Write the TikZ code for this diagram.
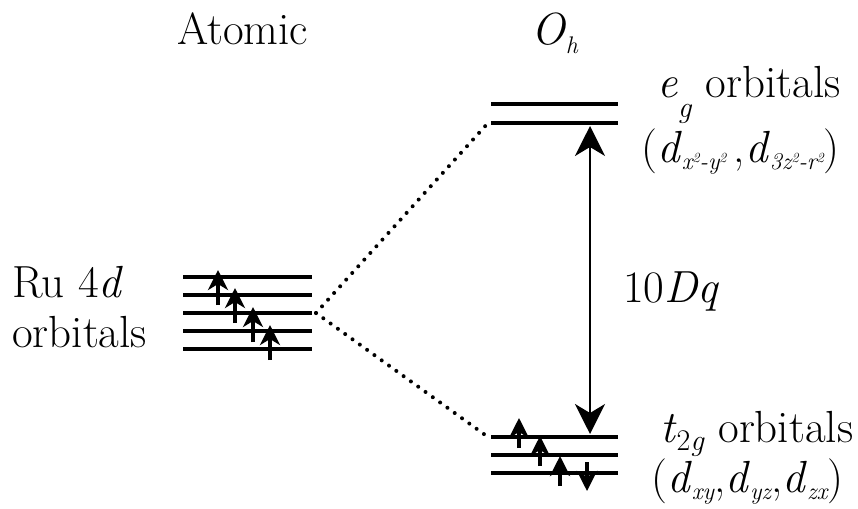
\documentclass[tikz,border=0pt]{standalone}
\usepackage{fontspec}
\usetikzlibrary{arrows.meta}

\tikzset{
    level/.style={line width=4pt},
    spin/.style={line width=4.5pt, -{Stealth[length=20pt, width=20pt, inset=6pt]}},
    split/.style={line width=4pt, line cap=round, dash pattern=on 0pt off 9pt},
    gap/.style={line width=2pt, {Stealth[length=30pt, width=30pt, inset=9pt]}-{Stealth[length=30pt, width=30pt, inset=9pt]}},
    lbl/.style={anchor=base west, inner sep=0pt, font=\fontsize{45}{50}\selectfont}
}
\newcommand{\sub}[1]{\raisebox{-7pt}{\fontsize{24}{26}\selectfont\itshape #1}}
\newcommand{\sq}{\raisebox{7pt}{\fontsize{14}{16}\selectfont 2}}

\begin{document}
\begin{tikzpicture}[x=1pt, y=-1pt]
    \useasboundingbox (0,0) rectangle (858,508);
    % titles
    \node[lbl] (atomic) at (177,45) {Atomic};
    \node[lbl] (oh) at (531,45) {\textit{O}\raisebox{-9pt}{\fontsize{24}{26}\selectfont\textit{h}}};
    % atomic 4d levels
    \foreach \y [count=\i] in {277,295,313,331,349} {
        \draw[level] (183,\y) coordinate (a\i) -- (312,\y) coordinate (ar\i);
    }
    \foreach \x/\y in {218/305, 235/323, 253/342, 270/360} {
        \draw[spin] (\x,\y) -- ++(0,-35);
    }
    \node[lbl] (ru) at (12,297) {Ru 4\textit{d}};
    \node[lbl] (ruorb) at (12,347) {orbitals};
    % eg levels
    \draw[level] (491,104) coordinate (e1) -- (618,104);
    \draw[level] (491,123) coordinate (e2) -- (618,123) coordinate (e2r);
    % t2g levels
    \draw[level] (491,437) coordinate (t1) -- (618,437) coordinate (t1r);
    \draw[level] (491,455) coordinate (t2) -- (618,455);
    \draw[level] (491,473) coordinate (t3) -- (618,473);
    \foreach \x/\y in {519/448, 540/466, 560/486} {
        \draw[spin] (\x,\y) -- ++(0,-30);
    }
    \draw[spin] (587,462) -- ++(0,29);
    % splitting
    \draw[split] (ar3) ++(4,0) -- ([xshift=-3pt]e2);
    \draw[split] (ar3) ++(4,0) -- ([xshift=-3pt]t1);
    \draw[gap] (590,126) coordinate (gtop) -- (590,434) coordinate (gbot);
    \node[lbl] (dq) at (623,302) {10\textit{Dq}};
    % labels
    \node[lbl] (eg) at (657,98) {\textit{e}\raisebox{-20pt}{\fontsize{30}{32}\selectfont\textit{g}} orbitals};
    \node[lbl] (egd) at (641,162) {(\textit{d}\sub{x\sq-y\sq}\,,\textit{d}\sub{3z\sq-r\sq})};
    \node[lbl] (tg) at (660,442) {\textit{t}\raisebox{-8pt}{\fontsize{30}{32}\selectfont2\textit{g}} orbitals};
    \node[lbl] (tgd) at (651,492) {(\textit{d}\sub{xy},\textit{d}\sub{yz},\textit{d}\sub{zx})};
\end{tikzpicture}
\end{document}
